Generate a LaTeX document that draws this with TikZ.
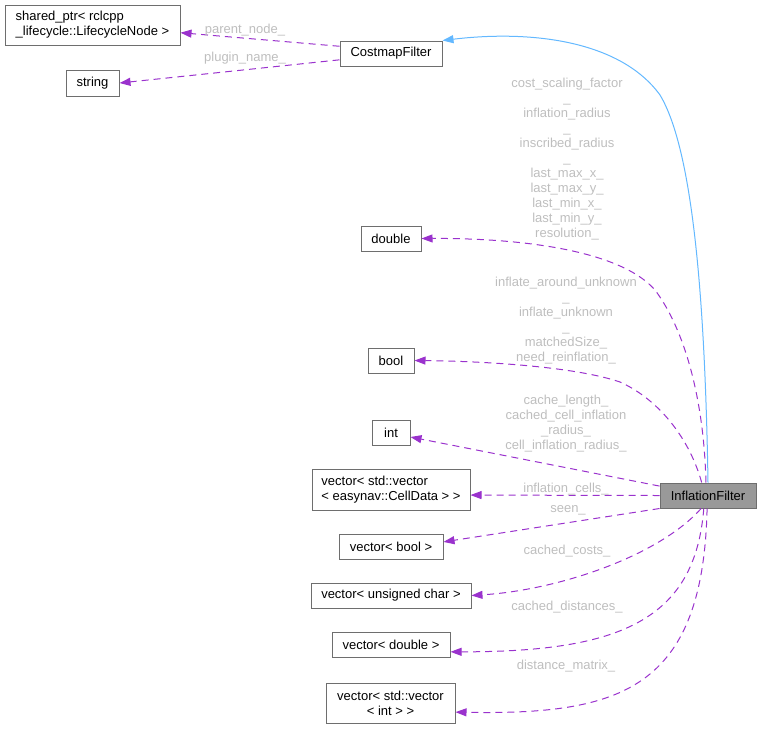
\documentclass[tikz,border=0pt]{standalone}
\usepackage{fontspec}
\setmainfont{Liberation Sans}
\usetikzlibrary{arrows.meta}
\definecolor{edgepurple}{RGB}{154,50,205}
\definecolor{inhblue}{RGB}{99,184,255}
\definecolor{lblgray}{RGB}{190,190,190}
\definecolor{boxgray}{RGB}{110,110,110}
\definecolor{selfgray}{RGB}{153,153,153}

\begin{document}
\begin{tikzpicture}[x=1pt,y=-1pt,
	font=\fontsize{13}{15}\selectfont,
	cls/.style={draw=boxgray, line width=1pt, inner sep=0pt, minimum height=25pt, align=center},
	member/.style={edgepurple, line width=1pt, dash pattern=on 7pt off 5pt, -{Triangle[length=11pt,width=8pt]}},
	lbl/.style={text=lblgray, inner sep=0pt, align=center}]
	\useasboundingbox (0,0) rectangle (762,729);
	% classes
	\node[cls, minimum width=175pt, minimum height=40pt, align=left] (sp) at (92.5,25) {shared\_ptr< rclcpp\\\_lifecycle::LifecycleNode >};
	\node[cls, minimum width=53pt, minimum height=26pt] (str) at (92.5,83) {string};
	\node[cls, minimum width=102pt] (cf) at (391,53.5) {CostmapFilter};
	\node[cls, minimum width=60pt] (dbl) at (391,238.5) {double};
	\node[cls, minimum width=46pt] (bl) at (391,360.5) {bool};
	\node[cls, minimum width=38pt] (it) at (391,432.5) {int};
	\node[cls, minimum width=158pt, minimum height=41pt, align=left] (vcd) at (391,489.5) {vector< std::vector\\< easynav::CellData > >};
	\node[cls, minimum width=104pt] (vb) at (391,546.5) {vector< bool >};
	\node[cls, minimum width=160pt] (vuc) at (391,595.5) {vector< unsigned char >};
	\node[cls, minimum width=118pt] (vd) at (391,644.5) {vector< double >};
	\node[cls, minimum width=129pt, minimum height=40pt] (vvi) at (390.5,703) {vector< std::vector\\< int > >};
	\node[cls, fill=selfgray, minimum width=96pt] (inf) at (708,495.5) {InflationFilter};

	% inheritance
	\draw[inhblue, line width=1pt, -{Triangle[length=11pt,width=8pt]}] (inf.north) .. controls (705,300) and (693,150) .. (660,95) .. controls (620,40) and (530,30) .. (cf.north east);

	% members of CostmapFilter
	\draw[member] (cf.172) -- (sp.-5);
	\draw[member] (cf.187) -- (str.east);
	\node[lbl] (lpn) at (245,30) {parent\_node\_};
	\node[lbl] (lpl) at (245,58) {plugin\_name\_};

	% members of InflationFilter
	\draw[member] (inf.99) .. controls (704,400) and (685,330) .. (655,290) .. controls (620,250) and (520,238) .. (dbl.east);
	\draw[member] (inf.116) .. controls (690,440) and (660,400) .. (620,382) .. controls (570,365) and (470,361) .. (bl.east);
	\draw[member] (inf.169) -- (it.-13);
	\draw[member] (inf.west) -- (vcd.-4);
	\draw[member] (inf.195) -- (vb.5);
	\draw[member] (inf.-118) .. controls (660,555) and (560,590) .. (vuc.east);
	\draw[member] (inf.-108) .. controls (695,620) and (620,652) .. (vd.-7);
	\draw[member] (inf.-94) .. controls (703,690) and (620,715) .. (vvi.-8);

	\node[lbl] (ldbl) at (567,159) {cost\_scaling\_factor\\\_\\inflation\_radius\\\_\\inscribed\_radius\\\_\\last\_max\_x\_\\last\_max\_y\_\\last\_min\_x\_\\last\_min\_y\_\\resolution\_};
	\node[lbl] (lbl) at (566,320.5) {inflate\_around\_unknown\\\_\\inflate\_unknown\\\_\\matchedSize\_\\need\_reinflation\_};
	\node[lbl] (lit) at (566,423.5) {cache\_length\_\\cached\_cell\_inflation\\\_radius\_\\cell\_inflation\_radius\_};
	\node[lbl] (lvcd) at (566,489) {inflation\_cells\_};
	\node[lbl] (lvb) at (568,510) {seen\_};
	\node[lbl] (lvuc) at (567,551) {cached\_costs\_};
	\node[lbl] (lvd) at (567,607) {cached\_distances\_};
	\node[lbl] (lvvi) at (566,666) {distance\_matrix\_};
\end{tikzpicture}
\end{document}
